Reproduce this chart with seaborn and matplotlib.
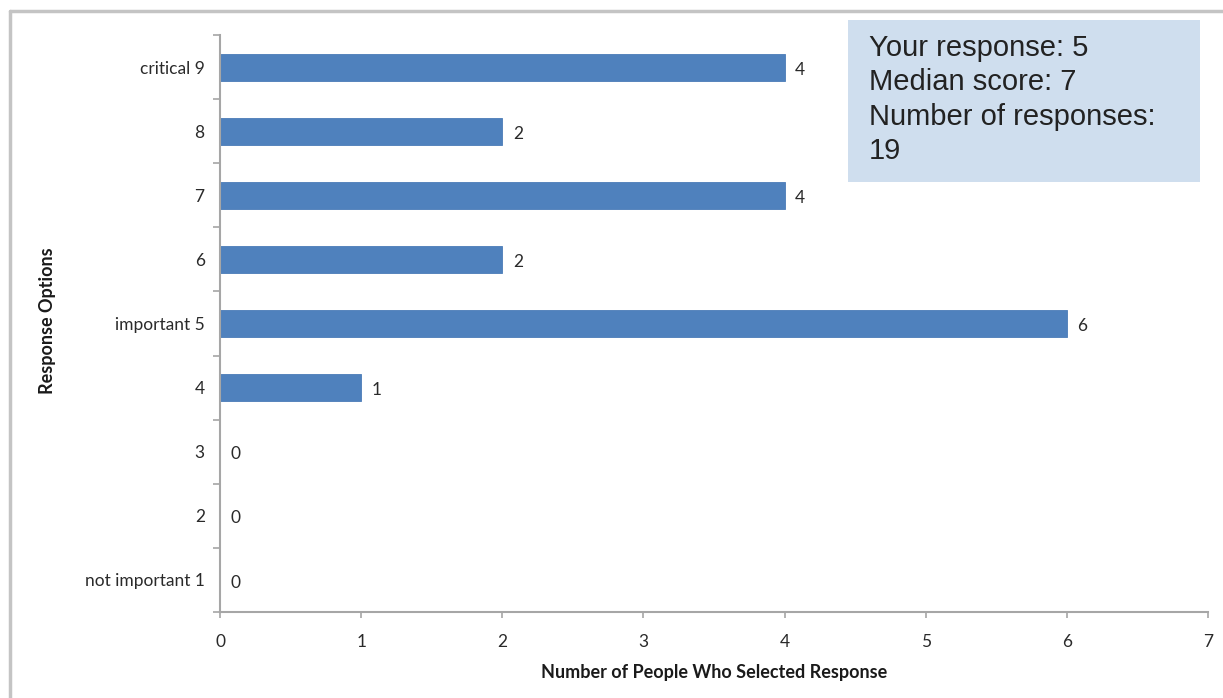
import matplotlib
matplotlib.use("Agg")
import matplotlib.pyplot as plt
import seaborn as sns
import pandas as pd
from matplotlib.patches import Rectangle
from matplotlib.lines import Line2D

categories = ["critical 9", "8", "7", "6", "important 5", "4", "3", "2", "not important 1"]
counts = [4, 2, 4, 2, 6, 1, 0, 0, 0]
x_ticks = [0, 1, 2, 3, 4, 5, 6, 7]
info_lines = ["Your response: 5", "Median score: 7", "Number of responses:", "19"]

df = pd.DataFrame({"option": categories, "count": counts})

sns.set_theme(style="white")
plt.rcParams["font.family"] = ["Lato", "DejaVu Sans"]

W, H = 1223, 698
fig = plt.figure(figsize=(W / 100, H / 100), dpi=100)
ax = fig.add_axes([220 / W, 1 - 612 / H, (1208 - 220) / W, (612 - 35) / H])

sns.barplot(data=df, x="count", y="option", order=categories, orient="h",
            color="#4f81bd", saturation=1, width=0.42, ax=ax,
            edgecolor="#4a7bb7", linewidth=0.6)

ax.set_xlim(0, 7)
ax.set_ylim(8.5, -0.5)
ax.set_xticks(x_ticks)
ax.set_xticklabels([str(t) for t in x_ticks], fontsize=12.5, color="#2a2a2a")
ax.set_yticks(range(len(categories)))
ax.set_yticklabels(categories, fontsize=12.5, color="#2a2a2a")
ax.set_yticks([i - 0.5 for i in range(len(categories) + 1)], minor=True)
ax.tick_params(axis="y", which="major", length=0, pad=11)
ax.tick_params(axis="y", which="minor", length=5, width=1.2, color="#a6a6a6", direction="out", left=True)
ax.tick_params(axis="x", which="major", length=4, width=1.2, color="#a6a6a6", direction="out", bottom=True, pad=12)

for s in ["top", "right"]:
    ax.spines[s].set_visible(False)
for s in ["left", "bottom"]:
    ax.spines[s].set_color("#a6a6a6")
    ax.spines[s].set_linewidth(1.5)

for i, v in enumerate(counts):
    ax.text(v + 0.075, i + 0.04, str(v), va="center", ha="left", fontsize=12.5, color="#2a2a2a")

ax.set_xlabel("Number of People Who Selected Response", fontsize=13, fontweight="bold",
              color="#1a1a1a")
ax.xaxis.set_label_coords(0.5, -(664 - 612) / (612 - 35))
ax.set_ylabel("Response Options", fontsize=13, fontweight="bold", color="#1a1a1a")
ax.yaxis.set_label_coords((56 - 220) / (1208 - 220), 0.505)

# outer frame
fig.add_artist(Line2D([10 / W, 10 / W], [0, 1 - 11 / H], transform=fig.transFigure,
                      color="#c4c4c4", linewidth=2.5))
fig.add_artist(Line2D([10 / W, 1], [1 - 11 / H, 1 - 11 / H], transform=fig.transFigure,
                      color="#c4c4c4", linewidth=2.5))

# info box
fig.add_artist(Rectangle((848 / W, 1 - 182 / H), (1200 - 848) / W, (182 - 20) / H,
                         transform=fig.transFigure, facecolor="#cfdeee", edgecolor="none"))
fig.text(869 / W, 1 - 34 / H, "\n".join(info_lines), ha="left", va="top",
         fontsize=21, color="#222222", family=["Liberation Sans", "DejaVu Sans"],
         linespacing=1.29)

fig.savefig("out.png", dpi=100)
